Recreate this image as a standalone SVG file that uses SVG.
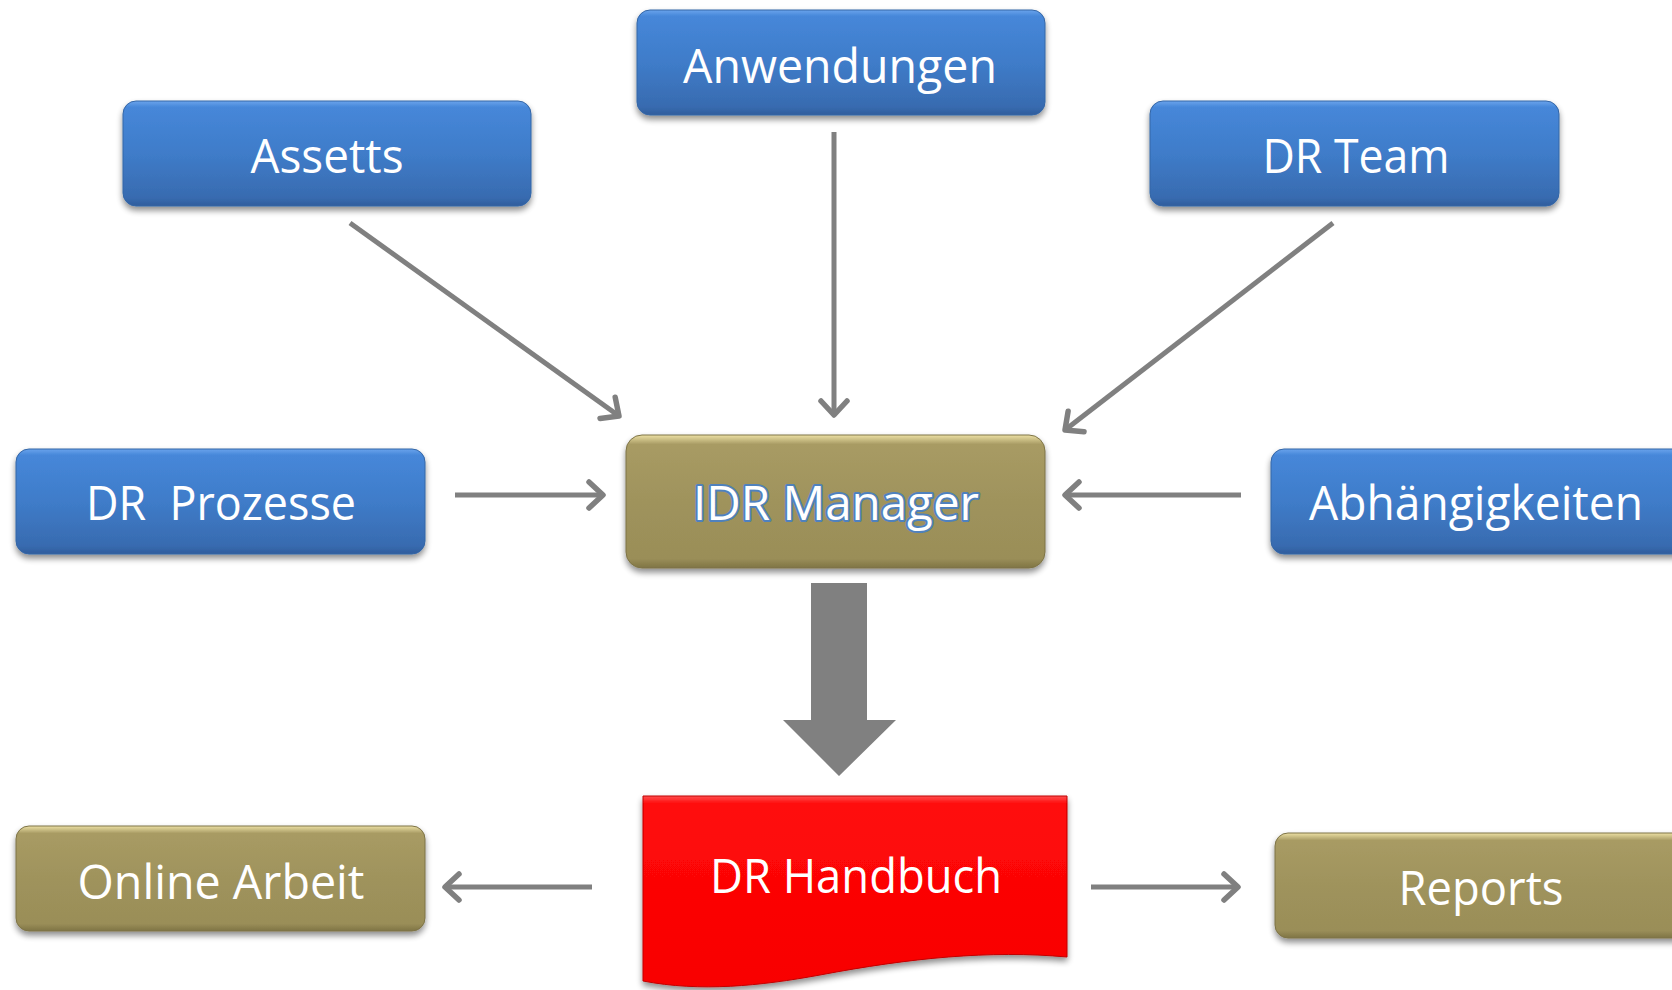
<svg xmlns="http://www.w3.org/2000/svg" width="1672" height="990" viewBox="0 0 1672 990">
<defs>
<linearGradient id="gBlue" x1="0" y1="0" x2="0" y2="1">
<stop offset="0" stop-color="#6aa3ec"/>
<stop offset="0.06" stop-color="#4687d9"/>
<stop offset="0.5" stop-color="#3f7cc9"/>
<stop offset="0.92" stop-color="#386bb0"/>
<stop offset="1" stop-color="#2f5d9c"/>
</linearGradient>
<linearGradient id="gOlive" x1="0" y1="0" x2="0" y2="1">
<stop offset="0" stop-color="#ece0a4"/>
<stop offset="0.07" stop-color="#a89b64"/>
<stop offset="0.5" stop-color="#9f935c"/>
<stop offset="0.93" stop-color="#9a8e58"/>
<stop offset="1" stop-color="#7f7445"/>
</linearGradient>
<linearGradient id="gRed" x1="0" y1="0" x2="0" y2="1">
<stop offset="0" stop-color="#ff5050"/>
<stop offset="0.04" stop-color="#ff0a0a"/>
<stop offset="1" stop-color="#f80000"/>
</linearGradient>
<filter id="sh" x="-10%" y="-20%" width="120%" height="150%">
<feGaussianBlur in="SourceAlpha" stdDeviation="3"/>
<feOffset dx="0" dy="4" result="b"/>
<feComponentTransfer><feFuncA type="linear" slope="0.45"/></feComponentTransfer>
<feMerge><feMergeNode/><feMergeNode in="SourceGraphic"/></feMerge>
</filter>
<marker id="arr" markerUnits="userSpaceOnUse" viewBox="-20 -18 25 36" refX="0" refY="0" markerWidth="25" markerHeight="36" orient="auto">
<path d="M-14,-13 L0,0 L-14,13" fill="none" stroke="#808080" stroke-width="5.5" stroke-linecap="round" stroke-linejoin="round"/>
</marker>
</defs>
<style>
.blue{fill:url(#gBlue);stroke:#3466a6;stroke-width:1;filter:url(#sh)}
.olive{fill:url(#gOlive);stroke:#7d7346;stroke-width:1;filter:url(#sh)}
.lbl{font-family:"Open Sans","Liberation Sans",sans-serif;font-size:47px;fill:#ffffff;text-anchor:middle}
.mgr{fill:#ffffff;stroke:#4f81bd;stroke-width:4;paint-order:stroke;stroke-linejoin:round}
.con{stroke:#808080;stroke-width:5;fill:none;marker-end:url(#arr)}
</style>
<rect width="1672" height="990" fill="#ffffff"/>
<g id="connectors">
<line class="con" x1="350" y1="223" x2="619" y2="416"/>
<line class="con" x1="834" y1="132" x2="834" y2="415"/>
<line class="con" x1="1333" y1="223" x2="1065" y2="430"/>
<line class="con" x1="455" y1="495" x2="603" y2="495"/>
<line class="con" x1="1241" y1="495" x2="1065" y2="495"/>
<line class="con" x1="592" y1="887" x2="445" y2="887"/>
<line class="con" x1="1091" y1="887" x2="1238" y2="887"/>
<polygon points="811,583 867,583 867,720 896,720 839,776 783,720 811,720" fill="#808080"/>
</g>
<g id="n-assetts">
<rect class="blue" x="123" y="101" width="408" height="105" rx="13"/>
<text class="lbl" x="327" y="173" textLength="153" lengthAdjust="spacingAndGlyphs">Assetts</text>
</g>
<g id="n-anwendungen">
<rect class="blue" x="637" y="10" width="408" height="105" rx="13"/>
<text class="lbl" x="840" y="83" textLength="314" lengthAdjust="spacingAndGlyphs">Anwendungen</text>
</g>
<g id="n-drteam">
<rect class="blue" x="1150" y="101" width="409" height="105" rx="13"/>
<text class="lbl" x="1356" y="173" textLength="187" lengthAdjust="spacingAndGlyphs">DR Team</text>
</g>
<g id="n-drprozesse">
<rect class="blue" x="16" y="449" width="409" height="105" rx="13"/>
<text class="lbl" x="221" y="520" textLength="270" lengthAdjust="spacingAndGlyphs" xml:space="preserve">DR  Prozesse</text>
</g>
<g id="n-idrmanager">
<rect class="olive" x="626" y="435" width="419" height="133" rx="16"/>
<text class="lbl mgr" x="836" y="520" textLength="286" lengthAdjust="spacingAndGlyphs">IDR Manager</text>
</g>
<g id="n-abhaengigkeiten">
<rect class="blue" x="1271" y="449" width="420" height="105" rx="13"/>
<text class="lbl" x="1476" y="520" textLength="334" lengthAdjust="spacingAndGlyphs">Abhängigkeiten</text>
</g>
<g id="n-drhandbuch">
<path d="M643,796 H1067 V957 C990,950 910,958 820,975 C760,986 700,992 643,981 Z" fill="url(#gRed)" stroke="#c00000" stroke-width="1" filter="url(#sh)"/>
<text class="lbl" x="856" y="893" textLength="292" lengthAdjust="spacingAndGlyphs">DR Handbuch</text>
</g>
<g id="n-onlinearbeit">
<rect class="olive" x="16" y="826" width="409" height="105" rx="13"/>
<text class="lbl" x="221" y="899" textLength="287" lengthAdjust="spacingAndGlyphs">Online Arbeit</text>
</g>
<g id="n-reports">
<rect class="olive" x="1275" y="833" width="420" height="105" rx="13"/>
<text class="lbl" x="1481" y="905" textLength="165" lengthAdjust="spacingAndGlyphs">Reports</text>
</g>
</svg>
